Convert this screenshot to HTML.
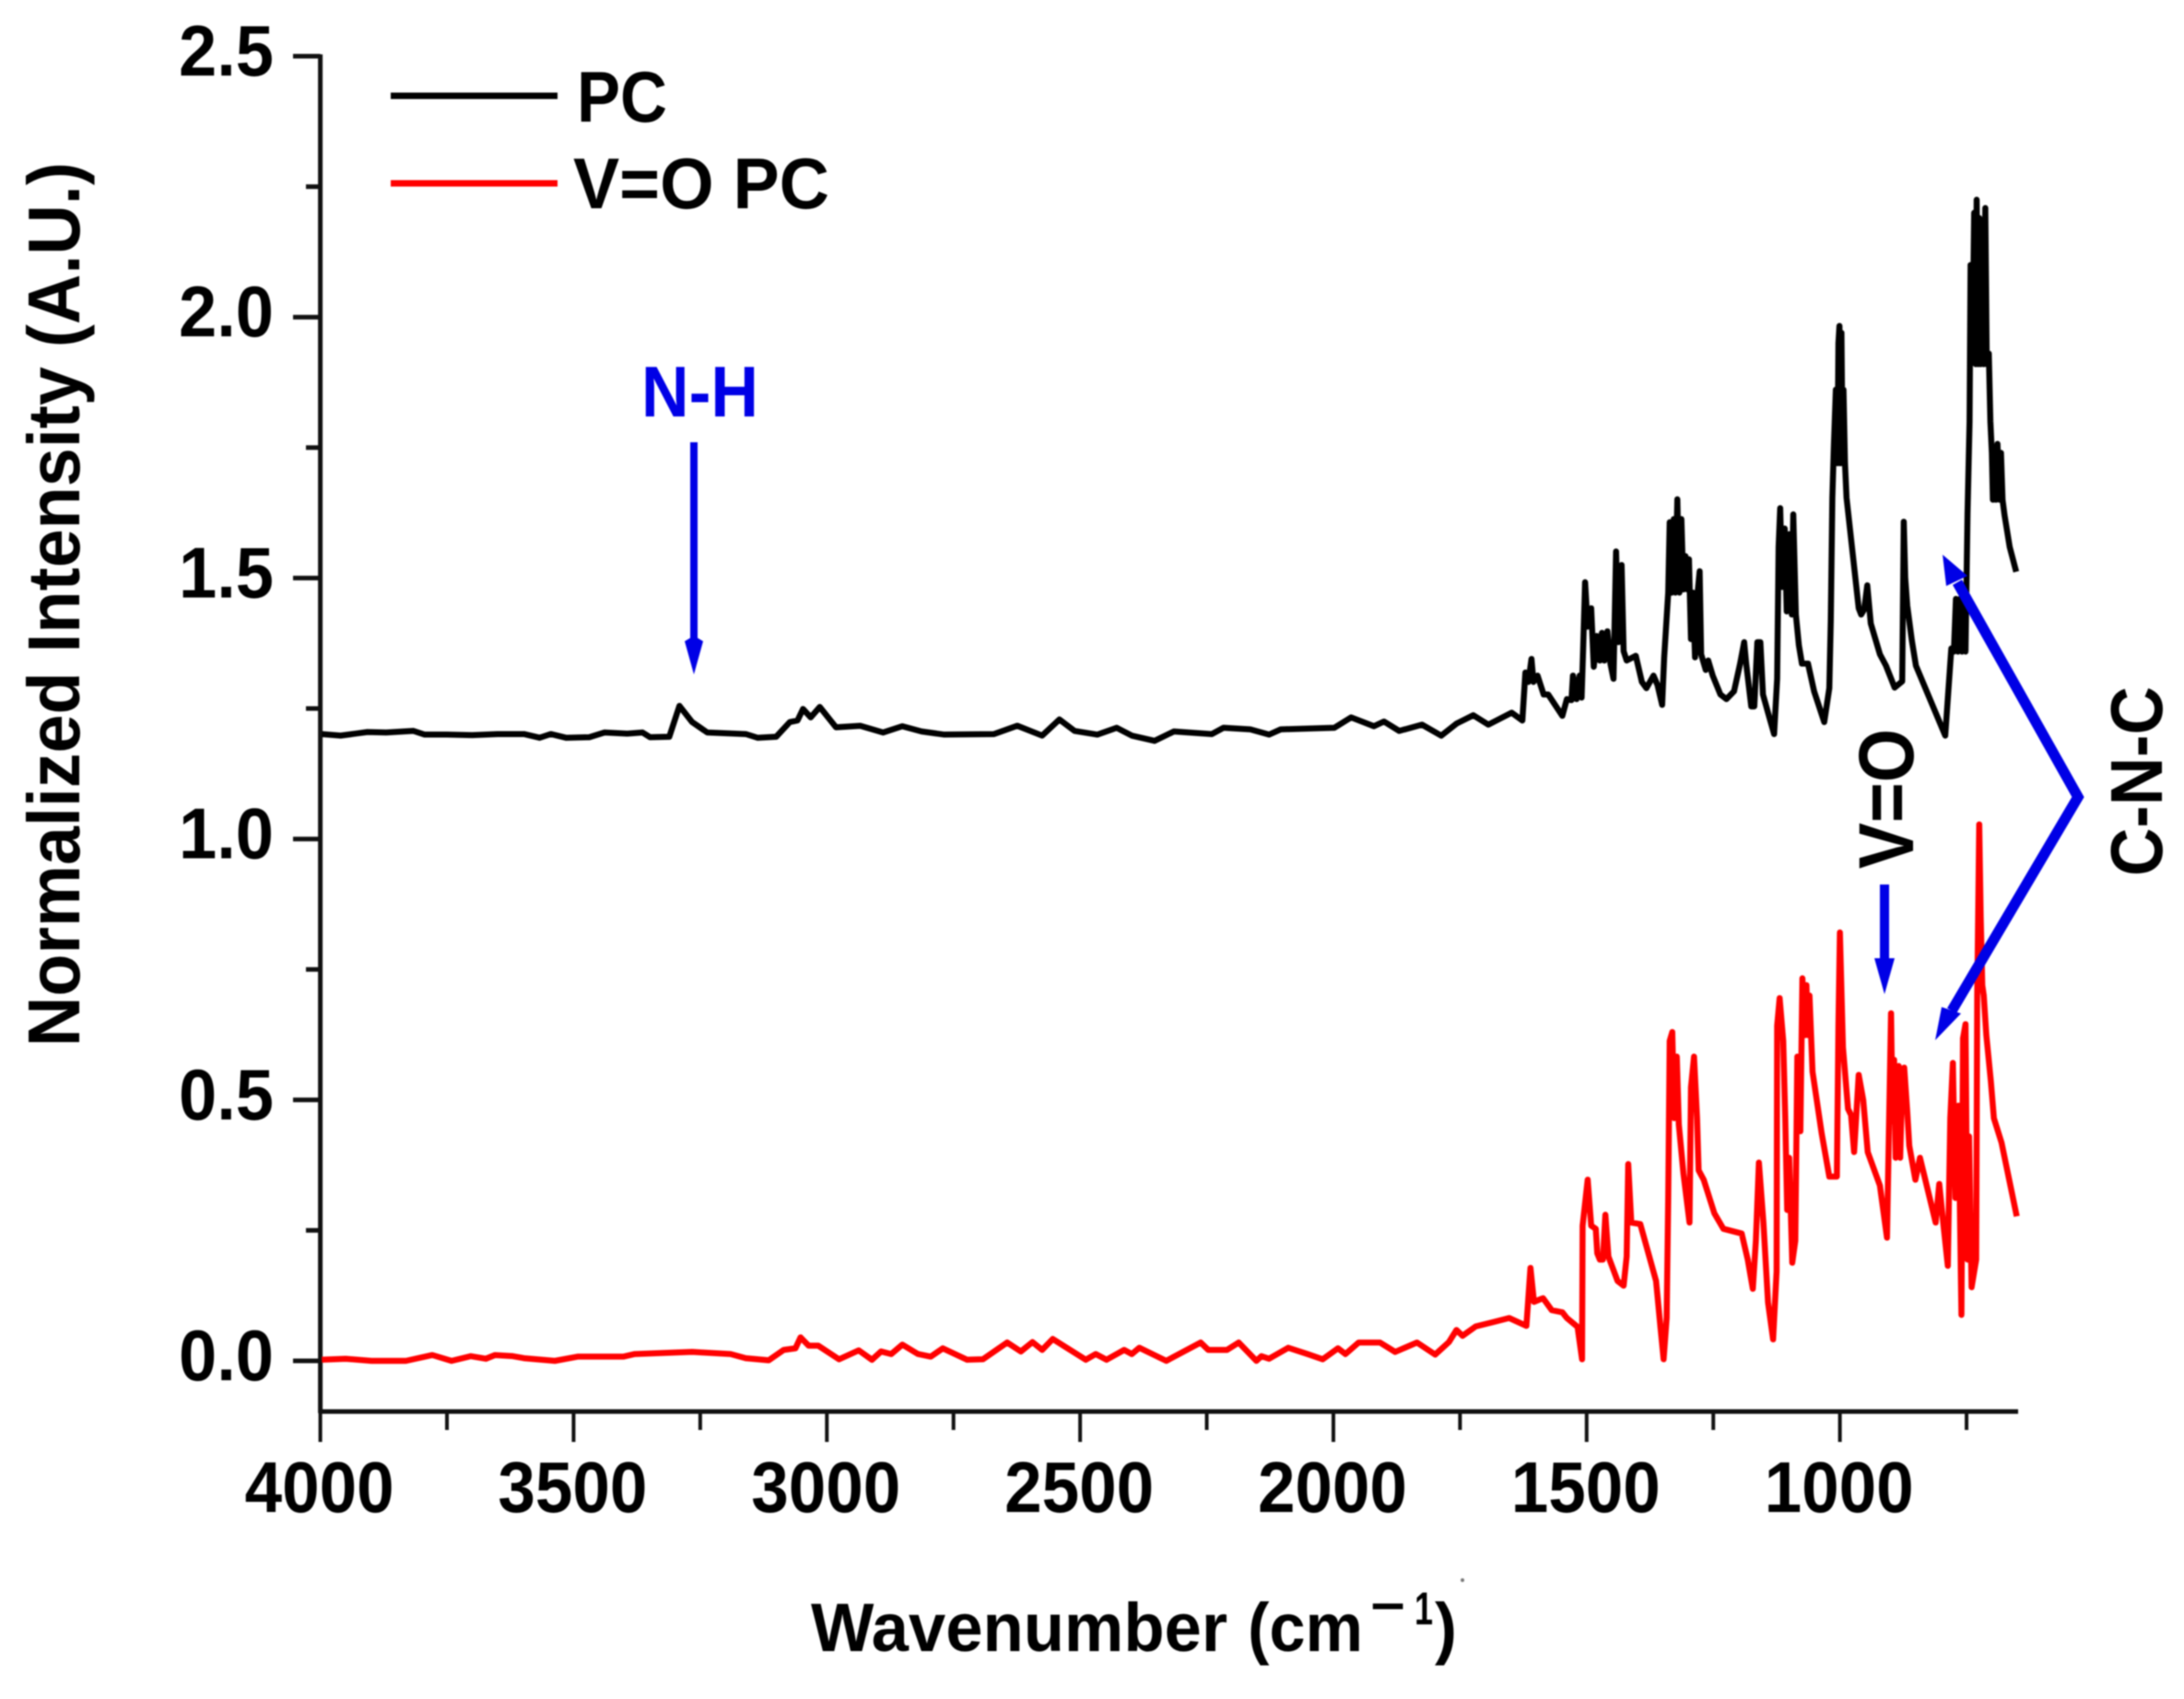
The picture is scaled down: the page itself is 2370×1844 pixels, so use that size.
<!DOCTYPE html>
<html lang="en">
<head>
<meta charset="utf-8">
<title>Normalized intensity spectra of PC and V=O PC</title>
<style>
html,body{margin:0;padding:0;background:#fff;width:2370px;height:1844px;overflow:hidden}
svg{display:block;filter:blur(0.8px)}
text{font-family:"Liberation Sans",Arial,sans-serif;font-weight:bold;fill:#000}
</style>
</head>
<body>
<svg id="chart" xmlns="http://www.w3.org/2000/svg" width="2370" height="1844" viewBox="0 0 2370 1844">
  <rect width="2370" height="1844" fill="#fff"/>
  <g id="axes"></g>
  <g id="series"></g>

  <text transform="translate(86,1136) rotate(-90)" font-size="80" textLength="960" lengthAdjust="spacingAndGlyphs">Normalized Intensity (A.U.)</text>

  <g>
    <text x="880" y="1792" font-size="74" textLength="452" lengthAdjust="spacingAndGlyphs">Wavenumber</text>
    <text x="1354" y="1792" font-size="74" textLength="125" lengthAdjust="spacingAndGlyphs">(cm</text>
    <text x="1487" y="1762" font-size="56" textLength="38" lengthAdjust="spacingAndGlyphs">−</text>
    <text x="1535" y="1763" font-size="50" textLength="20" lengthAdjust="spacingAndGlyphs">1</text>
    <text x="1557" y="1792" font-size="74" textLength="24" lengthAdjust="spacingAndGlyphs">)</text>
    <circle cx="1587" cy="1715" r="2" fill="#777"/>
  </g>

  <g>
    <line x1="424" y1="104" x2="605" y2="104" stroke="#000" stroke-width="7"/>
    <text x="626" y="132" font-size="78" textLength="98" lengthAdjust="spacingAndGlyphs">PC</text>
    <line x1="424" y1="199" x2="605" y2="199" stroke="#f00" stroke-width="7"/>
    <text x="622" y="226" font-size="78" textLength="278" lengthAdjust="spacingAndGlyphs">V=O PC</text>
  </g>

  <g>
    <text x="696" y="452" font-size="78" textLength="127" lengthAdjust="spacingAndGlyphs" style="fill:#0000e6">N-H</text>
    <rect x="749" y="480" width="8" height="218" fill="#0000e6"/>
    <polygon points="743,696 753,690 763,696 753,732" fill="#0000e6"/>
  </g>

  <g>
    <text transform="translate(2076,943) rotate(-90)" font-size="84" textLength="152" lengthAdjust="spacingAndGlyphs">V=O</text>
    <rect x="2040" y="960" width="10" height="82" fill="#0000e6"/>
    <polygon points="2034,1040 2056,1040 2045,1079" fill="#0000e6"/>
  </g>

  <g>
    <polyline points="2124,632 2255,865 2118,1097" fill="none" stroke="#0000e6" stroke-width="11.5" stroke-linejoin="miter"/>
    <polygon points="2108,602 2135,625 2112,636" fill="#0000e6"/>
    <polygon points="2100,1129 2128,1100 2107,1093" fill="#0000e6"/>
    <text transform="translate(2346,951) rotate(-90)" font-size="80" textLength="206" lengthAdjust="spacingAndGlyphs">C-N-C</text>
  </g>
</svg>

<script>
const xMajorTicks = [4000, 3500, 3000, 2500, 2000, 1500, 1000];
const xMinorTicks = [3750, 3250, 2750, 2250, 1750, 1250, 750];
const yMajorTicks = [0, 0.5, 1, 1.5, 2, 2.5];
const yMinorTicks = [0.25, 0.75, 1.25, 1.75, 2.25];
const yTickLabels = ['0.0', '0.5', '1.0', '1.5', '2.0', '2.5'];
const xDomain = [4000, 650];
const yDomain = [-0.1, 2.5];

const pcWavenumbers = [
  3997,3960,3930,3907,3870,3816,3794,3750,3700,3650,
  3598,3567,3545,3515,3469,3439,3394,3364,3349,3311,
  3291,3266,3236,3160,3137,3100,3073,3058,3047,3032,
  3014,2982,2934,2889,2851,2813,2768,2670,2624,2575,
  2541,2511,2466,2428,2398,2353,2315,2240,2217,2164,
  2127,2104,1998,1965,1920,1900,1870,1825,1787,1757,
  1724,1694,1648,1627,1621,1615,1609,1605,1597,1585,
  1576,1548,1539,1530,1527,1520,1514,1510,1507,1503,
  1498,1491,1486,1480,1474,1470,1465,1459,1453,1447,
  1442,1437,1431,1427,1421,1403,1391,1382,1368,1360,
  1351,1347,1339,1336,1332,1328,1325,1321,1317,1313,
  1309,1305,1301,1298,1294,1290,1286,1281,1277,1274,
  1265,1260,1251,1236,1224,1209,1197,1189,1185,1175,
  1169,1163,1157,1152,1142,1130,1124,1121,1118,1114,
  1109,1105,1100,1095,1092,1087,1081,1075,1063,1051,
  1031,1021,1018,1015,1012,1008,1005,1003,1001,999,
  997,995,993,990,987,975,963,958,952,946,
  939,921,909,892,877,874,871,867,858,850,
  792,780,775,771,767,763,759,755,752,748,
  744,742,738,735,732,730,727,725,722,719,
  716,713,710,706,703,700,698,695,692,689,
  685,682,679,675,665,652
];
const pcValues = [
  1.201,1.198,1.202,1.205,1.204,1.207,1.200,1.200,1.199,1.201,
  1.201,1.194,1.201,1.194,1.195,1.204,1.202,1.204,1.195,1.196,
  1.255,1.224,1.204,1.201,1.194,1.196,1.224,1.227,1.249,1.233,
  1.253,1.214,1.217,1.204,1.216,1.206,1.200,1.201,1.217,1.198,
  1.229,1.207,1.200,1.213,1.198,1.188,1.206,1.201,1.213,1.210,
  1.200,1.210,1.213,1.233,1.216,1.225,1.207,1.219,1.198,1.221,
  1.237,1.219,1.242,1.227,1.319,1.301,1.345,1.301,1.313,1.277,
  1.277,1.236,1.268,1.266,1.313,1.268,1.313,1.271,1.360,1.492,
  1.407,1.442,1.330,1.389,1.342,1.395,1.342,1.398,1.336,1.307,
  1.551,1.377,1.525,1.360,1.342,1.351,1.301,1.289,1.313,1.295,
  1.257,1.348,1.472,1.607,1.472,1.613,1.472,1.651,1.472,1.613,
  1.478,1.542,1.478,1.536,1.383,1.472,1.348,1.472,1.513,1.354,
  1.324,1.342,1.313,1.277,1.268,1.283,1.336,1.377,1.336,1.254,
  1.254,1.377,1.377,1.277,1.242,1.201,1.307,1.560,1.634,1.483,
  1.595,1.436,1.584,1.430,1.622,1.430,1.371,1.336,1.336,1.283,
  1.224,1.289,1.419,1.654,1.75,1.861,1.72,1.95,1.983,1.72,
  1.97,1.75,1.861,1.72,1.654,1.548,1.442,1.43,1.44,1.486,
  1.413,1.354,1.332,1.290,1.302,1.608,1.50,1.447,1.38,1.332,
  1.198,1.365,1.359,1.46,1.359,1.46,1.359,1.46,1.359,1.624,
  1.80,2.10,1.95,2.20,1.91,2.225,1.91,2.19,1.91,2.18,
  1.91,2.209,1.91,1.93,1.80,1.74,1.65,1.75,1.65,1.757,
  1.65,1.74,1.65,1.62,1.56,1.512
];

const voWavenumbers = [
  3997,3950,3899,3831,3779,3741,3703,3673,3655,3620,
  3598,3537,3492,3402,3379,3266,3190,3160,3115,3085,
  3062,3052,3036,3017,2976,2937,2911,2893,2873,2851,
  2820,2795,2771,2723,2692,2644,2617,2594,2575,2554,
  2489,2469,2448,2413,2398,2383,2330,2262,2247,2210,
  2187,2152,2142,2127,2089,2051,2021,1991,1976,1950,
  1908,1878,1835,1799,1772,1757,1745,1719,1685,1653,
  1619,1611,1604,1594,1586,1569,1548,1539,1518,1509,
  1508,1498,1491,1482,1479,1474,1468,1463,1457,1439,
  1427,1421,1418,1412,1394,1363,1354,1348,1342,1339,
  1336,1331,1327,1322,1318,1309,1297,1294,1288,1282,
  1279,1269,1248,1230,1194,1182,1172,1166,1160,1151,
  1142,1132,1125,1124,1119,1112,1108,1104,1100,1094,
  1088,1084,1078,1074,1069,1066,1063,1060,1054,1036,
  1021,1006,1003,1000,994,984,978,972,963,954,
  945,921,907,899,896,893,890,884,881,878,
  873,867,863,851,842,811,804,796,787,782,
  777,772,766,760,757,752,748,745,740,731,
  729,725,722,719,716,711,702,696,681,651
];
const voValues = [
  0.002,0.004,0,0,0.011,0,0.009,0.004,0.011,0.009,
  0.005,0,0.008,0.008,0.013,0.017,0.013,0.005,0.001,0.021,
  0.024,0.045,0.029,0.029,0.003,0.020,0.002,0.018,0.013,0.031,
  0.013,0.008,0.024,0.002,0.003,0.035,0.018,0.036,0.021,0.042,
  0.002,0.013,0.002,0.021,0.013,0.025,0,0.035,0.021,0.021,
  0.035,0,0.009,0.004,0.025,0.013,0.003,0.024,0.013,0.035,
  0.035,0.017,0.035,0.012,0.036,0.059,0.048,0.066,0.074,0.082,
  0.067,0.178,0.113,0.117,0.120,0.097,0.093,0.082,0.065,0.003,
  0.259,0.347,0.259,0.253,0.206,0.194,0.194,0.280,0.200,0.153,
  0.144,0.20,0.377,0.265,0.262,0.153,0.062,0.003,0.082,0.312,
  0.613,0.630,0.465,0.583,0.453,0.359,0.265,0.524,0.583,0.465,
  0.365,0.347,0.283,0.253,0.244,0.194,0.138,0.230,0.380,0.265,
  0.112,0.041,0.171,0.642,0.695,0.613,0.465,0.289,0.389,0.188,
  0.230,0.583,0.44,0.733,0.624,0.72,0.624,0.70,0.554,0.436,
  0.353,0.353,0.642,0.821,0.601,0.483,0.471,0.400,0.548,0.500,
  0.400,0.336,0.236,0.666,0.459,0.577,0.389,0.565,0.389,0.50,
  0.562,0.477,0.412,0.347,0.389,0.265,0.339,0.265,0.182,0.465,
  0.571,0.312,0.489,0.088,0.618,0.645,0.194,0.430,0.141,0.194,
  0.70,1.028,0.85,0.72,0.70,0.624,0.536,0.465,0.418,0.277
];

const SVG_NS = 'http://www.w3.org/2000/svg';
const plot = { left: 347.6, right: 2189, top: 61, bottom: 1533.6 };

function xScale(w) {
  return plot.left + (xDomain[0] - w) / (xDomain[0] - xDomain[1]) * (plot.right - plot.left);
}
function yScale(v) {
  return plot.bottom - (v - yDomain[0]) / (yDomain[1] - yDomain[0]) * (plot.bottom - plot.top);
}
function svgEl(tag, parent) {
  const el = document.createElementNS(SVG_NS, tag);
  parent.appendChild(el);
  return el;
}
function setLine(el, x1, y1, x2, y2, width) {
  el.setAttribute('x1', x1);
  el.setAttribute('y1', y1);
  el.setAttribute('x2', x2);
  el.setAttribute('y2', y2);
  el.setAttribute('stroke', '#111');
  el.setAttribute('stroke-width', width);
}

const axes = document.getElementById('axes');
const seriesGroup = document.getElementById('series');

const yAxisLine = svgEl('line', axes);


setLine(yAxisLine, plot.left, plot.top - 2, plot.left, plot.bottom, 5);

const xAxisLine = svgEl('line', axes);


setLine(xAxisLine, plot.left - 2, 1532, plot.right + 1, 1532, 5);

yMajorTicks.forEach(function (v, i) {
  const tick = svgEl('line', axes);
  
  
  setLine(tick, 318, yScale(v), plot.left, yScale(v), 5);
  const label = svgEl('text', axes);
  
  
  label.setAttribute('x', 194);
  label.setAttribute('y', yScale(v) + 21);
  label.setAttribute('font-size', 78);
  label.setAttribute('textLength', 103);
  label.setAttribute('lengthAdjust', 'spacingAndGlyphs');
  label.textContent = yTickLabels[i];
});
yMinorTicks.forEach(function (v) {
  const tick = svgEl('line', axes);
  
  
  setLine(tick, 332, yScale(v), plot.left, yScale(v), 5);
});
xMajorTicks.forEach(function (w) {
  const tick = svgEl('line', axes);
  
  
  setLine(tick, xScale(w), 1532, xScale(w), 1565, 4);
  const label = svgEl('text', axes);
  
  
  label.setAttribute('x', xScale(w) - 82);
  label.setAttribute('y', 1641);
  label.setAttribute('font-size', 78);
  label.setAttribute('textLength', 162);
  label.setAttribute('lengthAdjust', 'spacingAndGlyphs');
  label.textContent = String(w);
});
xMinorTicks.forEach(function (w) {
  const tick = svgEl('line', axes);
  
  
  setLine(tick, xScale(w), 1532, xScale(w), 1552, 4);
});

function pathFor(xs, ys) {
  return xs.map(function (w, i) {
    return (i ? 'L' : 'M') + xScale(w).toFixed(1) + ' ' + yScale(ys[i]).toFixed(1);
  }).join(' ');
}

const pcLine = svgEl('path', seriesGroup);


pcLine.setAttribute('d', pathFor(pcWavenumbers, pcValues));
pcLine.setAttribute('fill', 'none');
pcLine.setAttribute('stroke', '#000');
pcLine.setAttribute('stroke-width', 6.5);
pcLine.setAttribute('stroke-linejoin', 'round');

const voLine = svgEl('path', seriesGroup);


voLine.setAttribute('d', pathFor(voWavenumbers, voValues));
voLine.setAttribute('fill', 'none');
voLine.setAttribute('stroke', '#f00');
voLine.setAttribute('stroke-width', 6.5);
voLine.setAttribute('stroke-linejoin', 'round');
</script>
</body>
</html>
